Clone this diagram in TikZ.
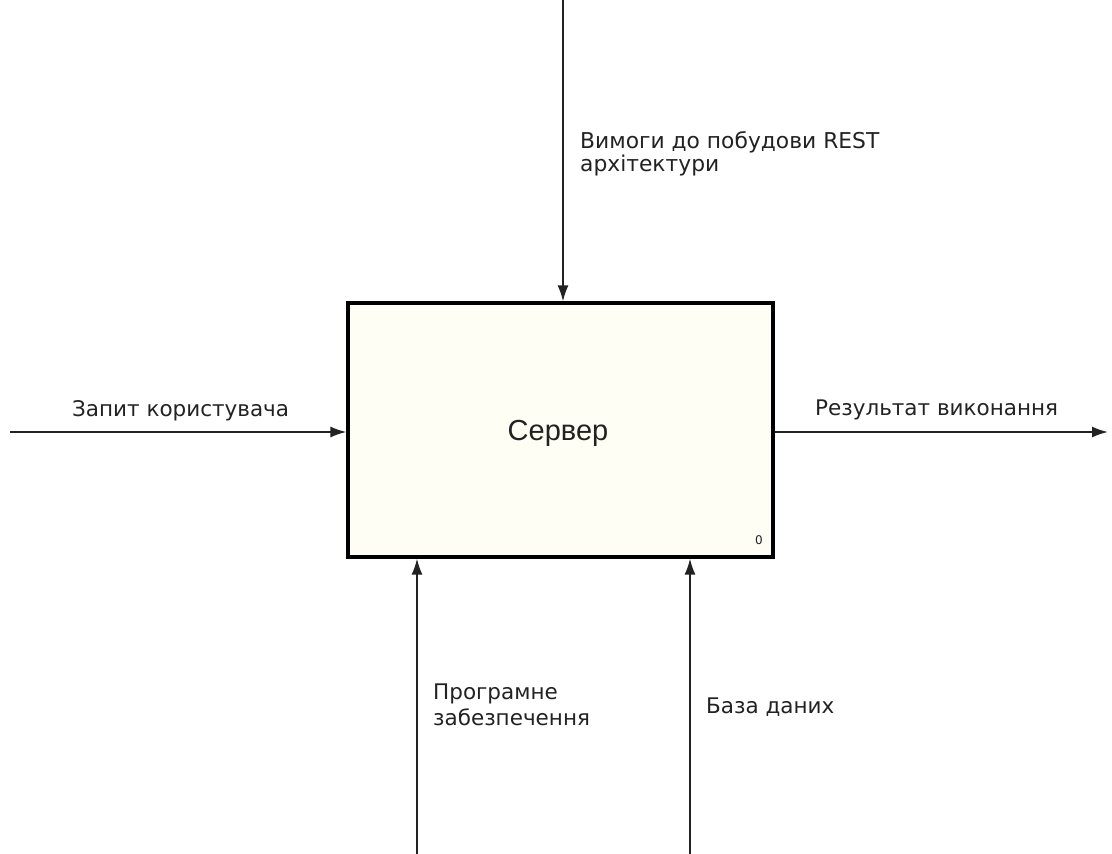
\documentclass[tikz,border=0pt]{standalone}
\usepackage{fontspec}
\setmainfont{Liberation Sans}
\newfontfamily\lblfont{DejaVu Sans}
\usetikzlibrary{arrows.meta}
\definecolor{boxfill}{HTML}{FFFEF5}
\definecolor{ink}{HTML}{222222}
\tikzset{
  flow/.style={draw=ink, line width=1.8pt, -{Latex[length=16pt,width=11pt]}},
  lbl/.style={font=\lblfont\fontsize{21.5}{25}\selectfont, text=ink, inner sep=0pt, align=left},
  func/.style={draw=black, line width=3.2pt, fill=boxfill, minimum width=425pt, minimum height=254pt, inner sep=0pt}
}
\begin{document}
\begin{tikzpicture}[x=1pt,y=-1pt]
\useasboundingbox (0,0) rectangle (1112,854);
\node[func] (srv) at (560.5,430) {};
\node[font=\fontsize{29}{33}\selectfont, text=ink] (name) at (558,433) {Сервер};
\node[font=\lblfont\fontsize{12}{14}\selectfont, text=ink, anchor=south east, inner sep=0pt] (num) at (763,545) {0};
% control
\coordinate (ctop) at (563,0);
\draw[flow] (ctop) -- (srv.north -| ctop);
\node[lbl, anchor=base west, font=\lblfont\fontsize{21.8}{23}\selectfont] (clbl) at (580,171) {Вимоги до побудови REST\\архітектури};
% input
\coordinate (inl) at (10,432);
\draw[flow] (inl) -- (srv.west |- inl);
\node[lbl, anchor=base west] (ilbl) at (72,416) {Запит користувача};
% output
\coordinate (outr) at (1108,432);
\draw[flow] (srv.east |- outr) -- (outr);
\node[lbl, anchor=base west] (olbl) at (815,415) {Результат виконання};
% mechanisms
\coordinate (m1) at (417,854);
\coordinate (m2) at (690,854);
\draw[flow] (m1) -- (srv.south -| m1);
\draw[flow] (m2) -- (srv.south -| m2);
\node[lbl, anchor=base west, font=\lblfont\fontsize{21.5}{26}\selectfont] (m1lbl) at (433,725) {Програмне\\забезпечення};
\node[lbl, anchor=base west] (m2lbl) at (706,713) {База даних};
\end{tikzpicture}
\end{document}
